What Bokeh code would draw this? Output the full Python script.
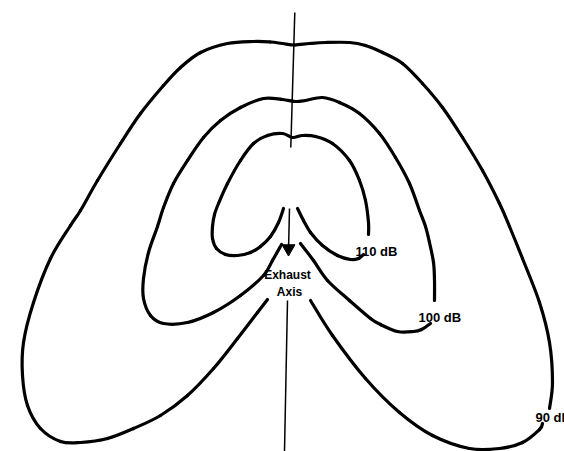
from bokeh.plotting import figure
from bokeh.models import Range1d
from bokeh.embed import file_html
from bokeh.resources import INLINE
from bokeh.core.properties import value

# Contour outlines (drawing units: x to the right, y downward)
c90_outer_x = [267, 257, 237, 213, 187, 160, 133, 107, 80, 60, 40, 27, 22, 23, 33, 50, 70, 80, 97, 120, 140, 163, 180, 200, 227, 253, 270, 282, 294, 309, 325, 349, 365, 382, 402, 422, 442, 462, 482, 499, 509, 522, 539, 549, 552, 549]
c90_outer_y = [299, 312, 338, 368, 395, 415, 428, 438, 442, 441, 428, 405, 375, 342, 302, 258, 225, 210, 180, 143, 113, 85, 67, 52, 43, 41, 41.5, 43, 44.5, 43, 42, 42, 45, 52, 63, 83, 107, 137, 170, 203, 226, 258, 302, 342, 382, 408]
c90_inner_x = [542, 539, 522, 499, 469, 432, 399, 365, 332, 310]
c90_inner_y = [423, 429, 442, 448, 448, 435, 412, 378, 335, 300]

c100_outer_x = [281, 272, 263, 240, 213, 187, 163, 150, 143, 143, 148, 157, 163, 173, 187, 203, 220, 240, 263, 282, 295, 305, 322, 339, 359, 379, 395, 409, 419, 425, 429, 433, 434, 434]
c100_outer_y = [244, 260, 275, 295, 312, 322, 323, 315, 298, 278, 252, 226, 207, 183, 160, 137, 120, 107, 98, 99, 101, 100, 97, 102, 113, 133, 157, 183, 210, 226, 242, 262, 280, 300]
c100_inner_x = [430, 421, 413, 397, 380, 370, 349, 327, 313, 300]
c100_inner_y = [323, 329, 331, 331, 324, 318, 300, 280, 260, 243]

c110_outer_x = [283, 278, 270, 260, 250, 237, 225, 216, 212, 212, 214, 218, 227, 240, 253, 267, 282, 292, 302, 315, 332, 349, 359, 365, 368, 368]
c110_outer_y = [208, 222, 236, 246, 252, 255, 254, 248, 238, 226, 214, 203, 183, 160, 143, 135, 133, 137, 135, 136, 143, 160, 180, 200, 222, 234]
c110_inner_x = [363, 358, 350, 337, 322, 310, 303, 297]
c110_inner_y = [254, 258, 259, 255, 245, 232, 220, 208]

axis_x = [[294.3, 290.3], [289, 288], [287, 284]]
axis_y = [[12, 147], [208, 250], [300, 451]]
arrow_x = [288]
arrow_y = [248]

label_text = ["110 dB", "100 dB", "90 dB"]
label_x = [355, 418, 535]
label_y = [251, 317, 417]

axis_text = ["Exhaust", "Axis"]
axis_text_x = [287, 289]
axis_text_y = [274, 291]


def smooth_segments(xs, ys, k=1.0 / 6.0):
    """Catmull-Rom control points for Bezier segments through the read points."""
    n = len(xs)
    out = {k_: [] for k_ in ("x0", "y0", "x1", "y1", "cx0", "cy0", "cx1", "cy1")}
    for i in range(n - 1):
        p0 = (xs[max(i - 1, 0)], ys[max(i - 1, 0)])
        p1 = (xs[i], ys[i])
        p2 = (xs[i + 1], ys[i + 1])
        p3 = (xs[min(i + 2, n - 1)], ys[min(i + 2, n - 1)])
        out["x0"].append(p1[0]); out["y0"].append(p1[1])
        out["x1"].append(p2[0]); out["y1"].append(p2[1])
        out["cx0"].append(p1[0] + (p2[0] - p0[0]) * k)
        out["cy0"].append(p1[1] + (p2[1] - p0[1]) * k)
        out["cx1"].append(p2[0] - (p3[0] - p1[0]) * k)
        out["cy1"].append(p2[1] - (p3[1] - p1[1]) * k)
    return out


p = figure(width=564, height=451, x_range=Range1d(0, 564), y_range=Range1d(451, 0),
           x_axis_type=None, y_axis_type=None, toolbar_location=None,
           output_backend="svg", min_border=0)
p.min_border_left = p.min_border_right = p.min_border_top = p.min_border_bottom = 0
p.grid.visible = False
p.outline_line_color = None
p.background_fill_color = "white"
p.border_fill_color = "white"

for xs, ys in [(c90_outer_x, c90_outer_y), (c90_inner_x, c90_inner_y),
               (c100_outer_x, c100_outer_y), (c100_inner_x, c100_inner_y),
               (c110_outer_x, c110_outer_y), (c110_inner_x, c110_inner_y)]:
    seg = smooth_segments(xs, ys)
    p.bezier(x0=seg["x0"], y0=seg["y0"], x1=seg["x1"], y1=seg["y1"],
             cx0=seg["cx0"], cy0=seg["cy0"], cx1=seg["cx1"], cy1=seg["cy1"],
             line_color="black", line_width=3.2, line_cap="round")

p.multi_line(axis_x, axis_y, line_color="black", line_width=1.5)
p.scatter(arrow_x, arrow_y, marker="inverted_triangle", size=13, fill_color="black", line_color="black")

p.text(label_x, label_y, text=label_text, text_font=value("Liberation Sans"),
       text_font_size="13px", text_font_style="bold", text_baseline="alphabetic",
       text_align="left", text_color="black")
p.text(axis_text_x, axis_text_y, text=axis_text, text_font=value("Liberation Sans"),
       text_font_size="12px", text_font_style="bold", text_baseline="middle",
       text_align="center", text_color="black")

open("out.html", "w").write(file_html(p, INLINE))
